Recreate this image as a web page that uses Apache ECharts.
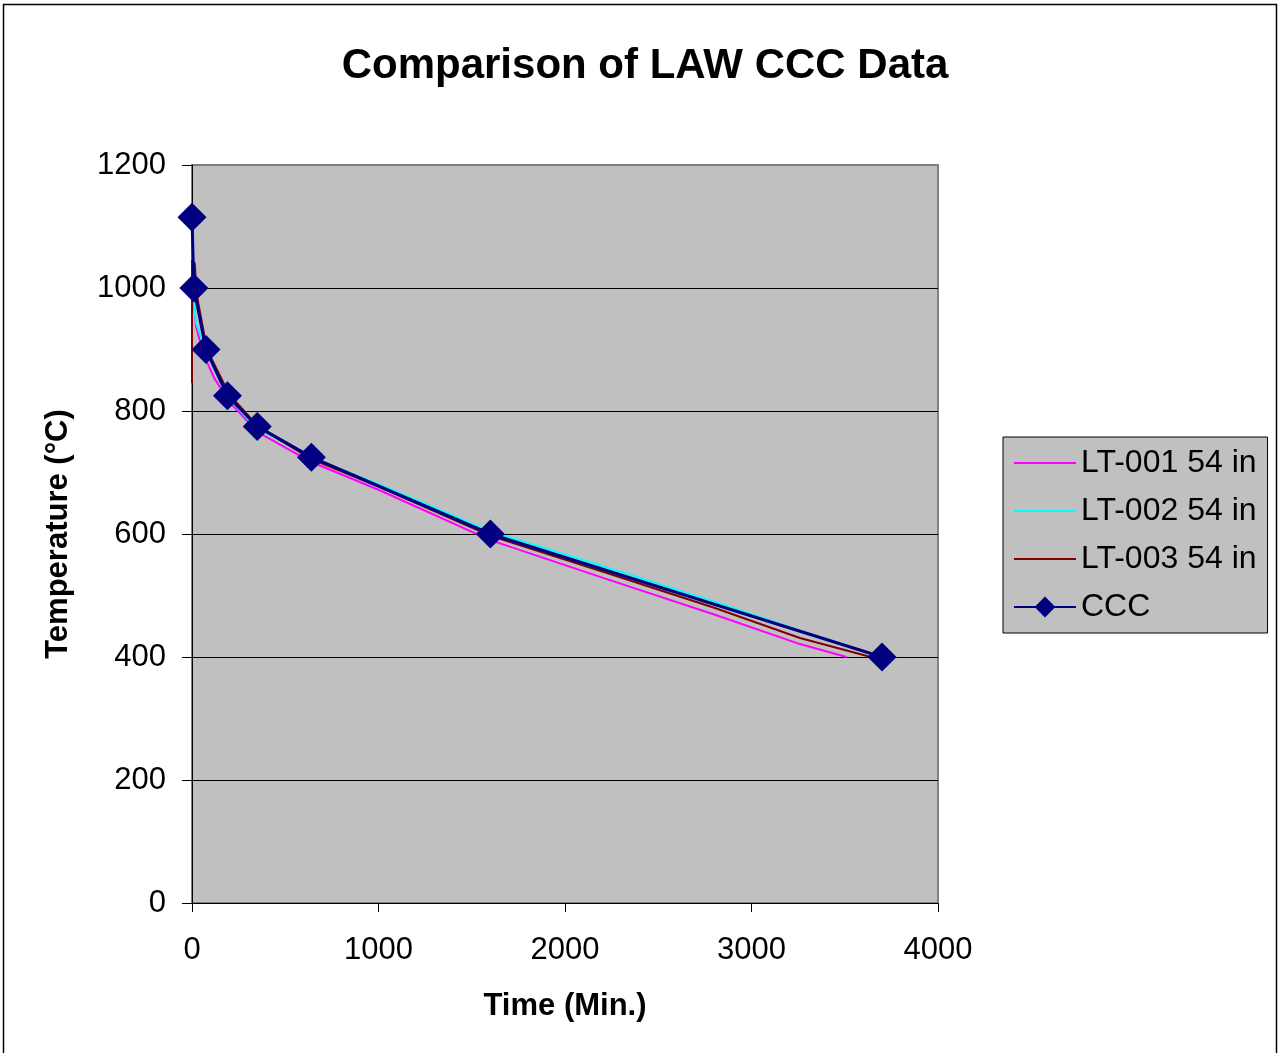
<!DOCTYPE html>
<html>
<head>
<meta charset="utf-8">
<script src="https://cdn.jsdelivr.net/npm/echarts@6/dist/echarts.min.js"></script>
<style>
  html, body { margin: 0; padding: 0; background: #fff; }
  #main { width: 1284px; height: 1053px; }
</style>
</head>
<body>
<div id="main"></div>
<script>
// data
var lt001Time = [0, 5, 20, 60, 120, 200, 350, 640, 1000, 1600, 2200, 2800, 3260, 3510];
var lt001Temp = [1110, 1000, 940, 893, 853, 815, 766, 717, 672, 590, 529, 469, 421, 400];

var lt002Time = [0, 5, 20, 75, 190, 350, 640, 1000, 1600, 2200, 2800, 3260, 3700];
var lt002Temp = [1110, 1000, 945, 898, 822, 772, 724, 681, 604, 548, 490, 443, 400];

var lt003Time = [0, 0, 15, 25, 80, 200, 360, 640, 1000, 1600, 2200, 2800, 3260, 3640];
var lt003Temp = [845, 1045, 1040, 990, 900, 827, 773, 722, 677, 597, 539, 480, 431, 400];

var cccTime = [0, 10, 75, 190, 350, 640, 1600, 3700];
var cccTemp = [1115, 1000, 900, 825, 775, 725, 600, 400];

var seriesNames = ['LT-001 54 in', 'LT-002 54 in', 'LT-003 54 in', 'CCC'];

function pairs(xs, ys) {
  var out = [];
  for (var i = 0; i < xs.length; i++) out.push([xs[i], ys[i]]);
  return out;
}

// flat bar path so the legend shows only a line sample
var lineOnly = 'path://M0,0h100v3.4h-100z';

var font = 'Liberation Sans, Arial, sans-serif';
var myChart = echarts.init(document.getElementById('main'));
var option = {
  backgroundColor: '#fff',
  animation: false,
  title: {
    text: 'Comparison of LAW CCC Data',
    left: 640, top: 40, textAlign: 'center',
    textStyle: { fontFamily: font, fontSize: 42, fontWeight: 'bold', color: '#000' }
  },
  graphic: [{
    type: 'rect',
    shape: { x: 3.5, y: 4.5, width: 1273, height: 1060 },
    style: { fill: 'none', stroke: '#000', lineWidth: 1.5 },
    silent: true
  }],
  legend: {
    orient: 'vertical',
    left: 1003, top: 437,
    padding: [10, 11, 10, 10],
    backgroundColor: '#c0c0c0',
    borderColor: '#000', borderWidth: 1,
    itemWidth: 62, itemHeight: 26, itemGap: 16,
    textStyle: { fontFamily: font, fontSize: 32, lineHeight: 32, color: '#000' },
    data: [
      { name: seriesNames[0], icon: lineOnly },
      { name: seriesNames[1], icon: lineOnly },
      { name: seriesNames[2], icon: lineOnly },
      { name: seriesNames[3] }
    ]
  },
  grid: { left: 192, right: 346, top: 165, bottom: 150, show: true, backgroundColor: '#c0c0c0', borderColor: '#808080', borderWidth: 2 },
  xAxis: {
    type: 'value', min: 0, max: 4000, interval: 1000,
    name: 'Time (Min.)', nameLocation: 'middle', nameGap: 88,
    nameTextStyle: { fontFamily: font, fontSize: 31, fontWeight: 'bold', color: '#000' },
    axisLine: { show: true, onZero: false, lineStyle: { color: '#000', width: 1 } },
    axisTick: { show: true, length: 9, lineStyle: { color: '#000' } },
    axisLabel: { fontFamily: font, fontSize: 31, color: '#000', margin: 32, formatter: function (v) { return String(v); } },
    splitLine: { show: false }
  },
  yAxis: {
    type: 'value', min: 0, max: 1200, interval: 200,
    name: 'Temperature (°C)', nameLocation: 'middle', nameGap: 118,
    nameTextStyle: { fontFamily: font, fontSize: 31, fontWeight: 'bold', color: '#000' },
    axisLine: { show: true, lineStyle: { color: '#000', width: 1 } },
    axisTick: { show: true, length: 10, lineStyle: { color: '#000' } },
    axisLabel: { fontFamily: font, fontSize: 31, color: '#000', margin: 26, formatter: function (v) { return String(v); } },
    splitLine: { show: true, lineStyle: { color: ['#000', '#000', '#000', '#000', '#000', '#000', '#808080'], width: 1 } }
  },
  series: [{
    name: seriesNames[0], type: 'line', symbol: 'none',
    color: '#ff00ff', lineStyle: { width: 2 },
    data: pairs(lt001Time, lt001Temp)
  }, {
    name: seriesNames[1], type: 'line', symbol: 'none',
    color: '#00ffff', lineStyle: { width: 2 },
    data: pairs(lt002Time, lt002Temp)
  }, {
    name: seriesNames[2], type: 'line', symbol: 'none',
    color: '#800000', lineStyle: { width: 2 },
    data: pairs(lt003Time, lt003Temp)
  }, {
    name: seriesNames[3], type: 'line', symbol: 'diamond', symbolSize: 29,
    color: '#000080', lineStyle: { width: 3 },
    itemStyle: { color: '#000080' },
    data: pairs(cccTime, cccTemp)
  }]
};
if (option && typeof option === 'object') {
  myChart.setOption(option, true);
}
</script>
</body>
</html>
